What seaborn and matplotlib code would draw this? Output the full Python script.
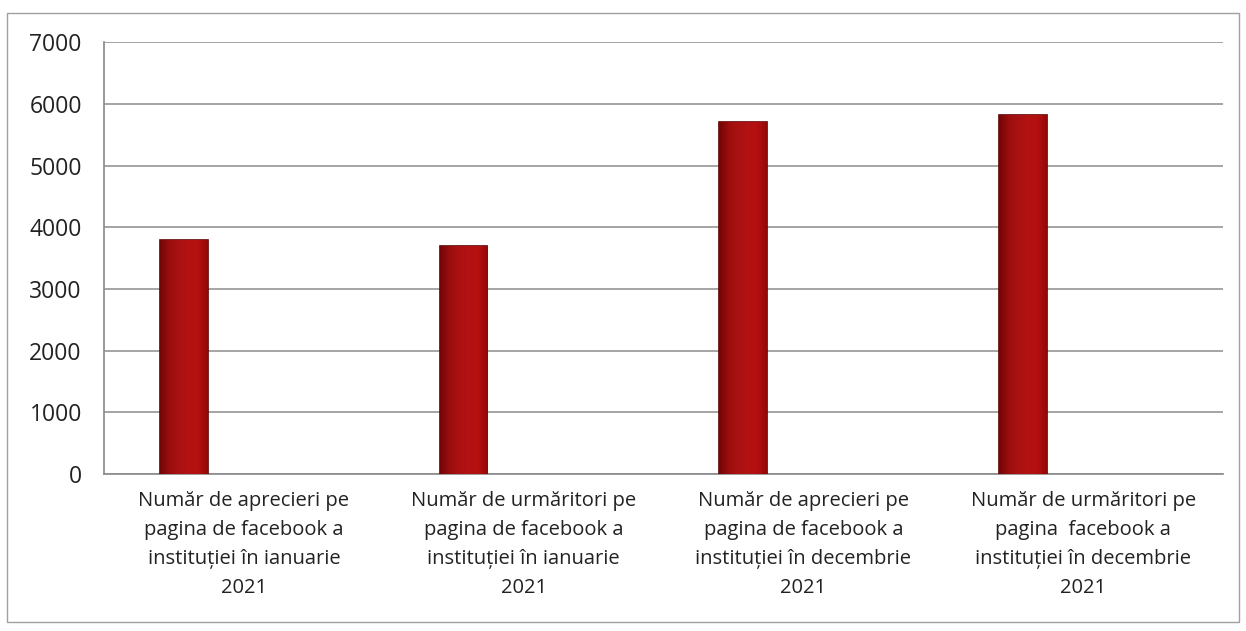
import matplotlib
matplotlib.use("Agg")
import matplotlib.pyplot as plt
import seaborn as sns
import numpy as np
import pandas as pd
from matplotlib.patches import Rectangle
from matplotlib.colors import LinearSegmentedColormap

# Date
categorii = [
    "Număr de aprecieri pe\npagina de facebook a\ninstituției în ianuarie\n2021",
    "Număr de urmăritori pe\npagina de facebook a\ninstituției în ianuarie\n2021",
    "Număr de aprecieri pe\npagina de facebook a\ninstituției în decembrie\n2021",
    "Număr de urmăritori pe\npagina  facebook a\ninstituției în decembrie\n2021",
]
valori = [3800, 3700, 5700, 5820]
y_ticks = [0, 1000, 2000, 3000, 4000, 5000, 6000, 7000]

df = pd.DataFrame({"categorie": categorii, "valoare": valori})

sns.set_theme(style="white")
plt.rcParams["font.family"] = ["Open Sans", "DejaVu Sans"]

fig = plt.figure(figsize=(12.46, 6.31), dpi=100)
ax = fig.add_axes([0.0835, 0.249, 0.898, 0.684])

sns.barplot(data=df, x="categorie", y="valoare", ax=ax, width=0.17,
            color="#b8100f", saturation=1, edgecolor="#5e0202", linewidth=1.2,
            zorder=3)

# barele sunt deplasate spre stanga in fiecare categorie
for p in ax.patches:
    p.set_x(p.get_x() - 0.215)

# umbrire discreta pe fiecare bara (margini mai inchise, jos mai inchis)
cmap = LinearSegmentedColormap.from_list(
    "rosu", ["#940707", "#bd1111", "#c41414", "#c41414", "#bd1111", "#940707"])
grad = np.tile(np.linspace(0, 1, 64), (64, 1))
vert = np.linspace(0.78, 1.0, 64)[:, None]
for p in ax.patches:
    x0, w, h = p.get_x(), p.get_width(), p.get_height()
    rgba = cmap(grad)
    rgba[..., :3] *= vert
    im = ax.imshow(rgba, extent=[x0, x0 + w, 0, h], aspect="auto",
                   origin="lower", zorder=3.5, interpolation="bilinear")
    im.set_clip_path(p)

ax.set_ylim(0, 7000)
ax.set_yticks(y_ticks)
ax.set_xlim(-0.5, 3.5)
ax.yaxis.grid(True, color="#8c8c8c", linewidth=1.1, zorder=0)
ax.xaxis.grid(False)
ax.set_xlabel("")
ax.set_ylabel("")
ax.tick_params(axis="y", labelsize=16.5, length=0, pad=16, colors="#222222")
ax.tick_params(axis="x", labelsize=14.5, length=0, pad=12, colors="#222222")
for lbl in ax.get_xticklabels():
    lbl.set_linespacing(1.6)

for s in ["top", "right"]:
    ax.spines[s].set_visible(False)
ax.spines["left"].set_color("#8c8c8c")
ax.spines["bottom"].set_color("#8c8c8c")

# chenarul exterior
fig.patches.append(Rectangle((0.006, 0.015), 0.988, 0.965, transform=fig.transFigure,
                             fill=False, edgecolor="#a0a0a0", linewidth=1.0))

fig.savefig("out.png", dpi=100)
